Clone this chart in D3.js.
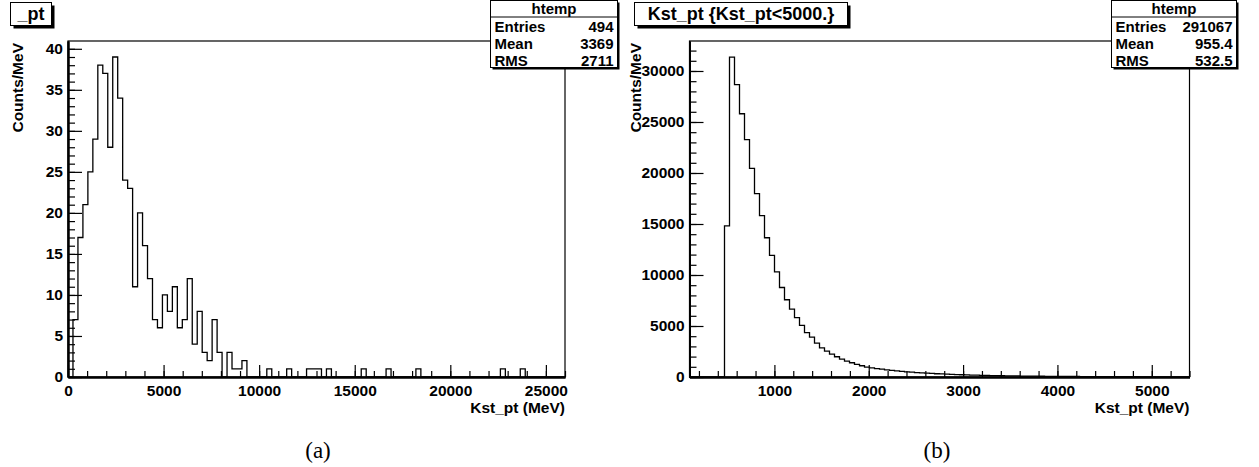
<!DOCTYPE html>
<html>
<head>
<meta charset="utf-8">
<script src="https://cdn.jsdelivr.net/npm/d3@7/dist/d3.min.js"></script>
<style>
  body { margin: 0; background: #fff; }
  svg { display: block; }
  text { font-family: "Liberation Sans", Arial, Helvetica, sans-serif; font-weight: bold; fill: #000; }
  .caption { font-family: "Liberation Serif", "DejaVu Serif", serif; font-weight: normal; }
</style>
</head>
<body>
<div id="chart"></div>
<script>
// Panel (a): Kst_pt, 100 bins of 260 MeV from 0 to 26000
const leftRange = [0, 26000]
const leftCounts = [
  0, 7, 17, 21, 25, 29, 38, 37, 28, 39,
  34, 24, 23, 11, 20, 16, 12, 7, 6, 10,
  8, 11, 6, 7, 12, 4, 8, 3, 2, 7,
  3, 0, 3, 1, 1, 2, 0, 0, 0, 0,
  1, 0, 0, 0, 1, 0, 0, 0, 1, 1,
  1, 0, 1, 0, 0, 0, 0, 0, 0, 1,
  0, 0, 0, 0, 1, 0, 0, 0, 0, 0,
  1, 0, 0, 0, 0, 0, 0, 0, 0, 0,
  0, 0, 0, 0, 0, 0, 0, 1, 0, 0,
  0, 1, 0, 0, 0, 0, 0, 0, 0, 0
]
const leftStats = [["Entries", "494"], ["Mean", "3369"], ["RMS", "2711"]]

// Panel (b): Kst_pt {Kst_pt<5000.}, 100 bins of 53 MeV from 100 to 5400
const rightRange = [100, 5400]
const rightCounts = [
  0, 0, 0, 0, 0, 0, 0, 14820, 31365, 28667,
  25807, 23272, 20444, 17974, 15829, 13651, 11928, 10303, 8776, 7573,
  6663, 5818, 5070, 4355, 3900, 3315, 2860, 2535, 2243, 1983,
  1755, 1560, 1398, 1235, 1105, 975, 900, 830, 765, 705,
  650, 600, 553, 510, 472, 436, 403, 373, 346, 320,
  297, 276, 256, 238, 221, 205, 191, 178, 166, 155,
  144, 134, 125, 117, 109, 102, 95, 89, 83, 78,
  73, 68, 64, 60, 56, 53, 50, 47, 44, 41,
  39, 37, 35, 33, 31, 29, 27, 26, 24, 23,
  22, 21, 10, 0, 0, 0, 0, 0, 0, 0
]
const rightStats = [["Entries", "291067"], ["Mean", "955.4"], ["RMS", "532.5"]]

const width = 1259
const height = 467

const svg = d3.select("#chart").append("svg").attr("width", width).attr("height", height)

const panels = [
  {
    title: "_pt", titleBox: [10.5, 2.5, 41, 23],
    range: leftRange, counts: leftCounts, stats: leftStats,
    frame: { x0: 68, x1: 565, y0: 41, y1: 377 },
    ymax: 40.95, yMajor: 5, yMinor: 1, xMajor: 5000, xMinor: 1000,
    statBox: [490.5, 0.5, 127, 67], yTitleX: 23, caption: "(a)", captionX: 318
  },
  {
    title: "Kst_pt {Kst_pt<5000.}", titleBox: [634.5, 2.5, 213, 23],
    range: rightRange, counts: rightCounts, stats: rightStats,
    frame: { x0: 689.5, x1: 1189.5, y0: 41, y1: 377 },
    ymax: 32940, yMajor: 5000, yMinor: 1000, xMajor: 1000, xMinor: 200,
    statBox: [1111.5, 0.5, 125, 67], yTitleX: 641, caption: "(b)", captionX: 937
  }
]

panels.forEach((p) => {
  const g = svg.append("g")
  const f = p.frame

  const x = d3.scaleLinear().domain(p.range).range([f.x0, f.x1])
  const y = d3.scaleLinear().domain([0, p.ymax]).range([f.y1, f.y0])

  // Frame
  g.append("rect")
    .attr("x", f.x0).attr("y", f.y0)
    .attr("width", f.x1 - f.x0).attr("height", f.y1 - f.y0)
    .attr("fill", "none").attr("stroke", "#000").attr("stroke-width", 1.2)

  // Minor ticks (no labels)
  const xMinorTicks = d3.range(Math.ceil(p.range[0] / p.xMinor) * p.xMinor, p.range[1] + 1, p.xMinor)
  const yMinorTicks = d3.range(0, p.ymax, p.yMinor)
  g.append("g").attr("transform", `translate(0,${f.y1})`)
    .call(d3.axisBottom(x).tickValues(xMinorTicks).tickSize(-6).tickSizeOuter(0).tickFormat(""))
  g.append("g").attr("transform", `translate(${f.x0},0)`)
    .call(d3.axisLeft(y).tickValues(yMinorTicks).tickSize(-7).tickSizeOuter(0).tickFormat(""))

  // Major ticks with labels
  const xMajorTicks = d3.range(Math.ceil(p.range[0] / p.xMajor) * p.xMajor, p.range[1] + 1, p.xMajor)
  const yMajorTicks = d3.range(0, p.ymax, p.yMajor)
  const xAxis = g.append("g").attr("transform", `translate(0,${f.y1})`)
    .call(d3.axisBottom(x).tickValues(xMajorTicks).tickSize(-12).tickSizeOuter(0).tickPadding(8).tickFormat(d3.format("d")))
  const yAxis = g.append("g").attr("transform", `translate(${f.x0},0)`)
    .call(d3.axisLeft(y).tickValues(yMajorTicks).tickSize(-14).tickSizeOuter(0).tickPadding(5).tickFormat(d3.format("d")))

  g.selectAll(".domain").attr("stroke-width", 2)
  g.selectAll(".tick line").attr("stroke-width", 1.2)
  ;[xAxis, yAxis].forEach((a) => a.selectAll("text").style("font-size", "15.5px").style("font-family", null))

  // Histogram outline
  const bw = (p.range[1] - p.range[0]) / p.counts.length
  const pts = [[p.range[0], 0]]
  p.counts.forEach((c, i) => {
    pts.push([p.range[0] + i * bw, c])
    pts.push([p.range[0] + (i + 1) * bw, c])
  })
  pts.push([p.range[1], 0])
  g.append("path")
    .attr("d", d3.line().x((d) => x(d[0])).y((d) => y(d[1]))(pts))
    .attr("fill", "none").attr("stroke", "#000").attr("stroke-width", 1.3)

  // Axis titles
  g.append("text")
    .attr("x", f.x1).attr("y", 413)
    .attr("text-anchor", "end").style("font-size", "15.5px")
    .text("Kst_pt (MeV)")
  g.append("text")
    .attr("transform", `translate(${p.yTitleX},${f.y0 + 2}) rotate(-90)`)
    .attr("text-anchor", "end").style("font-size", "15.5px")
    .text("Counts/MeV")

  // Stats box
  const [sx, sy, sw, sh] = p.statBox
  g.append("rect").attr("x", sx + 2).attr("y", sy + 2).attr("width", sw).attr("height", sh).attr("fill", "#000")
  g.append("rect").attr("x", sx).attr("y", sy).attr("width", sw).attr("height", sh)
    .attr("fill", "#fff").attr("stroke", "#000").attr("stroke-width", 1)
  g.append("line").attr("x1", sx).attr("x2", sx + sw).attr("y1", sy + 16.5).attr("y2", sy + 16.5)
    .attr("stroke", "#000")
  g.append("text").attr("x", sx + sw / 2).attr("y", sy + 13.5)
    .attr("text-anchor", "middle").style("font-size", "15px").text("htemp")
  p.stats.forEach(([k, v], i) => {
    const by = sy + 31 + i * 17.2
    g.append("text").attr("x", sx + 4).attr("y", by).style("font-size", "15px").text(k)
    g.append("text").attr("x", sx + sw - 4).attr("y", by).attr("text-anchor", "end").style("font-size", "15px").text(v)
  })

  // Title box
  const [tx, ty, tw, th] = p.titleBox
  g.append("rect").attr("x", tx + 3).attr("y", ty + 3).attr("width", tw).attr("height", th).attr("fill", "#000")
  g.append("rect").attr("x", tx).attr("y", ty).attr("width", tw).attr("height", th)
    .attr("fill", "#fff").attr("stroke", "#000").attr("stroke-width", 1)
  g.append("text").attr("x", tx + tw / 2).attr("y", ty + 17.5)
    .attr("text-anchor", "middle").style("font-size", "18px").text(p.title)

  // Caption
  g.append("text").attr("class", "caption")
    .attr("x", p.captionX).attr("y", 458)
    .attr("text-anchor", "middle").style("font-size", "23px").text(p.caption)
})
</script>
</body>
</html>
